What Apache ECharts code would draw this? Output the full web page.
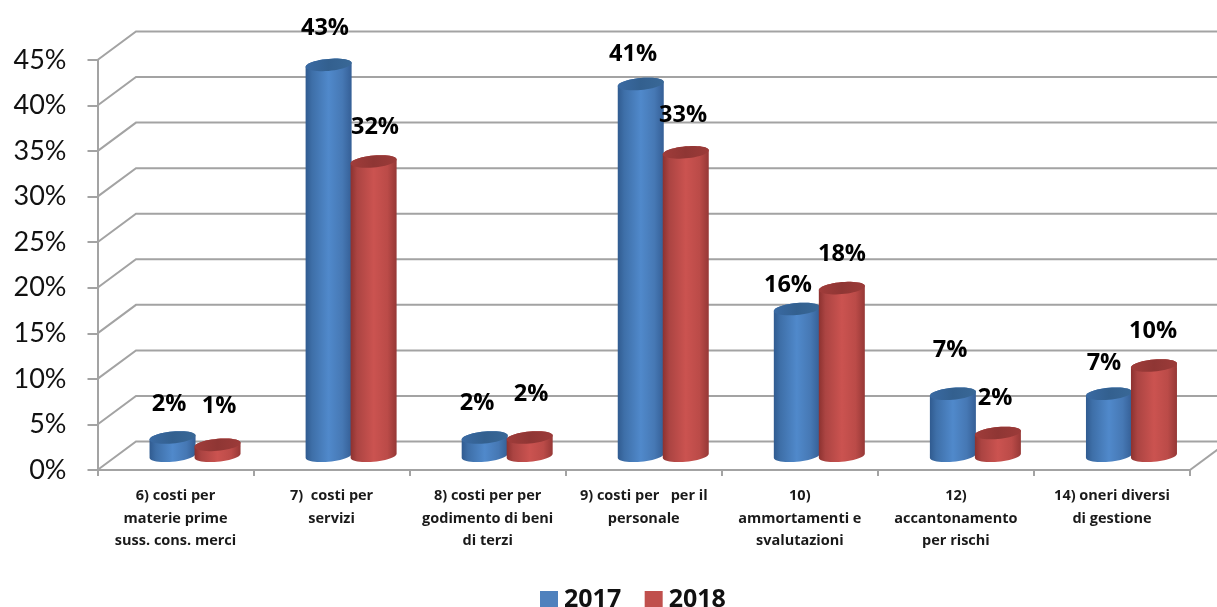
<!DOCTYPE html>
<html><head><meta charset="utf-8">
<style>html,body{margin:0;padding:0;background:#fff}#c{width:1217px;height:607px}</style>
<script src="https://cdn.jsdelivr.net/npm/echarts@6/dist/echarts.min.js"></script>
</head><body><div id="c"></div>
<script>
var categories = ['6) costi per\nmaterie prime\nsuss. cons. merci','7)  costi per\nservizi','8) costi per per\ngodimento di beni\ndi terzi','9) costi per   per il\npersonale','10)\nammortamenti e\nsvalutazioni','12)\naccantonamento\nper rischi','14) oneri diversi\ndi gestione'];
var values2017 = [2, 42.9, 2, 40.8, 16.1, 6.8, 6.8];
var values2018 = [1.2, 32.3, 2, 33.3, 18.4, 2.5, 9.9];
var labels2017 = ['2%','43%','2%','41%','16%','7%','7%'];
var labels2018 = ['1%','32%','2%','33%','18%','2%','10%'];
var yTicks = [0,5,10,15,20,25,30,35,40,45];

// label nudges relative to the top of each cylinder (placement only)
var nudge2017 = [[-3.5,-33],[-3.6,-36.5],[-7.6,-34],[-7.7,-29.5],[-8.8,-24],[-2.9,-43.5],[-5,-30.5]];
var nudge2018 = [[1.5,-38.6],[1.4,-34.2],[1.4,-43.3],[-2.7,-37.1],[0.2,-33.9],[-2.9,-34.7],[-0.9,-34.3]];

var DEPTH_X = 38.5, DEPTH_Y = 28.5, HALF_W = 23, RY = 6, SKEW = 2;
var BOLD = '"Open Sans", sans-serif';
var FONT = 'Lato, "Open Sans", sans-serif';
var GRID = '#a3a3a3';

function ell(cx, cy, from, to, n){
  var p = [];
  for (var i = 0; i <= n; i++){
    var t = from + (to - from) * i / n;
    p.push([cx + HALF_W * Math.cos(t), cy + RY * Math.sin(t) - SKEW * Math.cos(t)]);
  }
  return p;
}
function grad(stops){
  return new echarts.graphic.LinearGradient(0,0,1,0,stops.map(function(s){return {offset:s[0],color:s[1]};}));
}
var blueBody = grad([[0,'#305b90'],[0.14,'#3e6fa8'],[0.5,'#5089cb'],[0.8,'#4678b4'],[1,'#355f96']]);
var blueTop = grad([[0,'#3a6aa3'],[0.5,'#33608f'],[1,'#396897']]);
var redBody = grad([[0,'#8c3230'],[0.14,'#ab4442'],[0.5,'#cb5350'],[0.8,'#bb4b48'],[1,'#963836']]);
var redTop = grad([[0,'#a03c3a'],[0.5,'#8f3634'],[1,'#9c3b39']]);

function cylinder(shift, body, top){
  return function(params, api){
    var front0 = api.coord([api.value(0), 0]);
    var frontV = api.coord([api.value(0), api.value(1)]);
    var cx = front0[0] + shift;
    var yb = front0[1] - DEPTH_Y/2, yt = frontV[1] - DEPTH_Y/2;
    var poly = ell(cx, yt, Math.PI, 2*Math.PI, 24).concat(ell(cx, yb, 0, Math.PI, 24));
    return {type:'group', children:[
      {type:'polygon', shape:{points:poly}, style:{fill:body}},
      {type:'polygon', shape:{points:ell(cx, yt, 0, 2*Math.PI, 48)}, style:{fill:top}}
    ]};
  };
}
function labelSeries(shift, labels, nudge){
  return {
    type:'custom', silent:true, z:5, clip:false, encode:{x:0,y:1},
    data: labels.map(function(l,i){ return [i, (shift < 0 ? values2017 : values2018)[i]]; }),
    renderItem:function(params, api){
      var i = api.value(0);
      var p = api.coord([i, api.value(1)]);
      return {type:'text', style:{
        x:p[0] + shift + nudge[i][0], y:p[1] - DEPTH_Y/2 + nudge[i][1],
        text:labels[i], fill:'#000', align:'center', verticalAlign:'middle',
        font:'bold 23.5px ' + BOLD
      }};
    }
  };
}

var chart = echarts.init(document.getElementById('c'), null, {renderer:'canvas'});
chart.setOption({
  animation:false, backgroundColor:'#fff',
  grid:{left:97.5, right:27, top:60, bottom:137},
  legend:{data:['2017','2018'], left:535, top:582, itemWidth:18, itemHeight:17, itemGap:23.5, selectedMode:false,
    icon:'rect', textStyle:{fontFamily:BOLD, fontWeight:'bold', fontSize:25, color:'#111', padding:[0,0,0,1]}},
  xAxis:{type:'category', data:categories,
    axisLine:{lineStyle:{color:GRID,width:2}}, axisTick:{show:true,length:6,lineStyle:{color:GRID,width:2}},
    axisLabel:{interval:0, margin:15, fontFamily:BOLD, fontWeight:'bold', fontSize:14.5, color:'#1a1a1a', lineHeight:22.5, align:'center'}},
  yAxis:{type:'value', min:0, max:45, interval:5,
    axisLine:{show:true,lineStyle:{color:GRID,width:2}}, axisTick:{show:true,length:10,lineStyle:{color:GRID,width:2}},
    splitLine:{show:false},
    axisLabel:{margin:31, padding:[8,0,0,0], formatter:'{value}%', fontFamily:FONT, fontSize:27, color:'#111'}},
  series:[
    {type:'custom', silent:true, z:1, clip:false, encode:{x:0,y:1},
     data:yTicks.map(function(v){return [0,v];}),
     renderItem:function(params, api){
       var p = api.coord([0, api.value(1)]);
       var x0 = p[0] - api.size([1,0])[0]/2, y0 = p[1];
       return {type:'polyline', shape:{points:[[x0,y0],[x0+DEPTH_X,y0-DEPTH_Y],[1240,y0-DEPTH_Y]]},
         style:{stroke:GRID, lineWidth:2, fill:null}};
     }},
    {type:'custom', silent:true, z:1, clip:false, encode:{x:0,y:1},
     data:[[categories.length-1,0]],
     renderItem:function(params, api){
       var p = api.coord([api.value(0), 0]);
       var x0 = p[0] + api.size([1,0])[0]/2, y0 = p[1];
       return {type:'polyline', shape:{points:[[x0,y0],[x0+DEPTH_X,y0-DEPTH_Y]]}, style:{stroke:GRID, lineWidth:2, fill:null}};
     }},
    {name:'2017', type:'custom', silent:true, z:3, clip:false, encode:{x:0,y:1}, itemStyle:{color:'#4f81bd'},
     data:values2017.map(function(v,i){return [i,v];}), renderItem:cylinder(-3, blueBody, blueTop)},
    {name:'2018', type:'custom', silent:true, z:4, clip:false, encode:{x:0,y:1}, itemStyle:{color:'#c0504d'},
     data:values2018.map(function(v,i){return [i,v];}), renderItem:cylinder(42, redBody, redTop)},
    labelSeries(-3, labels2017, nudge2017),
    labelSeries(42, labels2018, nudge2018)
  ]
});
</script></body></html>
